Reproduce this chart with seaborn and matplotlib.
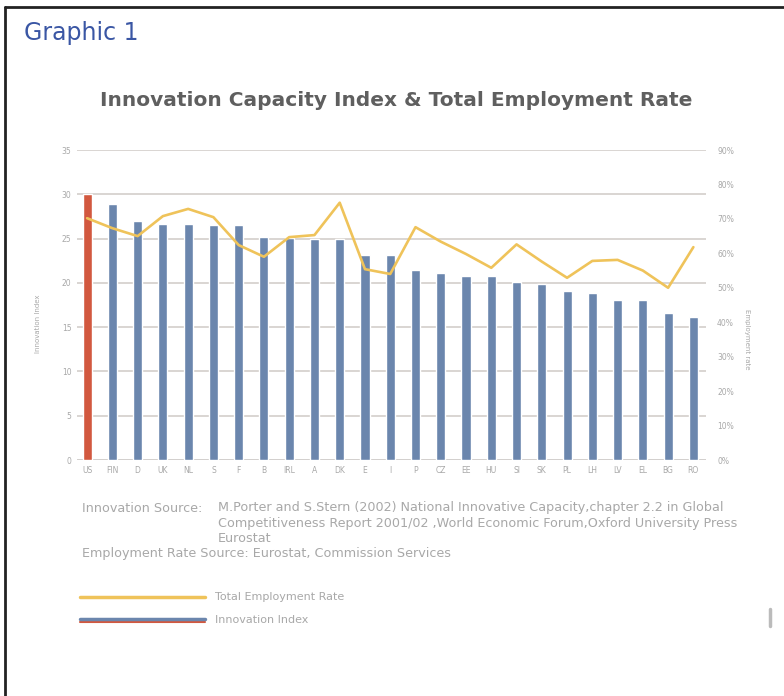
import numpy as np
import pandas as pd
import matplotlib
matplotlib.use("Agg")
import matplotlib.pyplot as plt
from matplotlib.lines import Line2D
import seaborn as sns

# values
countries = ["US", "FIN", "D", "UK", "NL", "S", "F", "B", "IRL", "A", "DK", "E", "I",
             "P", "CZ", "EE", "HU", "SI", "SK", "PL", "LH", "LV", "EL", "BG", "RO"]
innovation = [30.0, 28.9, 27.0, 26.7, 26.7, 26.5, 26.5, 25.2, 25.1, 25.0, 24.9, 23.1, 23.1,
              21.4, 21.1, 20.8, 20.8, 20.1, 19.9, 19.1, 18.9, 18.1, 18.1, 16.6, 16.2]
employment = [70.2, 67.3, 65.0, 70.8, 72.9, 70.5, 62.4, 59.0, 64.7, 65.3, 74.7, 55.4, 54.0,
              67.6, 63.4, 59.8, 55.8, 62.6, 57.6, 52.9, 57.8, 58.1, 55.0, 50.0, 61.8]
left_ticks = [0, 5, 10, 15, 20, 25, 30, 35]
right_ticks = [0, 10, 20, 30, 40, 50, 60, 70, 80, 90]

BLUE = "#6b86ad"
RED = "#d2583f"
YELLOW = "#efc35a"
GRID = "#cfcac6"
TXT = "#a8a8a8"

df = pd.DataFrame({"country": countries, "innovation": innovation,
                   "employment": np.array(employment) / 100})
df["pos"] = np.arange(len(df))

sns.set_style("white")
plt.rcParams["font.family"] = ["DejaVu Sans"]

fig = plt.figure(figsize=(7.84, 6.96), dpi=100)
ax = fig.add_axes([77 / 784, 1 - 460 / 696, (706 - 77) / 784, 310 / 696])

palette = {c: (RED if c == "US" else BLUE) for c in countries}
sns.barplot(data=df, x="country", y="innovation", hue="country", palette=palette,
            width=0.36, saturation=1, legend=False, ax=ax, zorder=3)
ax.set_xlim(-0.4, len(countries) - 0.5)
ax.set_ylim(0, 35)
ax.set_yticks(left_ticks)
ax.grid(axis="y", color=GRID, lw=1.1, zorder=0)
ax.set_axisbelow(True)
for s in ax.spines.values():
    s.set_visible(False)
ax.axhline(0, color="#bbbbbb", lw=1, zorder=2)
ax.tick_params(axis="both", labelsize=5.5, colors=TXT, length=0, pad=4)
ax.set_xlabel("")
ax.set_ylabel("Innovation Index", fontsize=5, color=TXT)
ax.yaxis.set_label_coords(-0.058, 0.44)

ax2 = ax.twinx()
sns.lineplot(data=df, x="pos", y="employment", color=YELLOW, lw=1.9, ax=ax2)
ax2.set_ylim(0, 0.9)
ax2.set_yticks(np.array(right_ticks) / 100)
ax2.set_yticklabels([f"{t}%" for t in right_ticks])
ax2.tick_params(axis="y", labelsize=5.5, colors=TXT, length=0, pad=8)
for s in ax2.spines.values():
    s.set_visible(False)
ax2.set_ylabel("Employment rate", fontsize=5, color=TXT, rotation=270)
ax2.yaxis.set_label_coords(1.07, 0.39)

# titles and notes
fig.text(24 / 784, 1 - 33 / 696, "Graphic 1", fontsize=17, color="#3a56a4",
         ha="left", va="center")
fig.text(396 / 784, 1 - 100 / 696, "Innovation Capacity Index & Total Employment Rate",
         fontsize=14.5, fontweight="bold", color="#5f5f5f", ha="center", va="center")

note_kw = dict(fontsize=9.2, color=TXT, ha="left", va="center")
fig.text(82 / 784, 1 - 508 / 696, "Innovation Source:", **note_kw)
fig.text(218 / 784, 1 - 508 / 696,
         "M.Porter and S.Stern (2002) National Innovative Capacity,chapter 2.2 in Global",
         **note_kw)
fig.text(218 / 784, 1 - 523 / 696,
         "Competitiveness Report 2001/02 ,World Economic Forum,Oxford University Press",
         **note_kw)
fig.text(218 / 784, 1 - 538 / 696, "Eurostat", **note_kw)
fig.text(82 / 784, 1 - 553 / 696, "Employment Rate Source: Eurostat, Commission Services",
         **note_kw)

# legend drawn by hand, like the original
fig.add_artist(Line2D([80 / 784, 205 / 784], [1 - 597 / 696] * 2, color=YELLOW, lw=2.5))
fig.add_artist(Line2D([80 / 784, 205 / 784], [1 - 622 / 696] * 2, color=RED, lw=1.5))
fig.add_artist(Line2D([80 / 784, 205 / 784], [1 - 619 / 696] * 2, color=BLUE, lw=2.5))
fig.text(215 / 784, 1 - 597 / 696, "Total Employment Rate", fontsize=8, color=TXT,
         va="center")
fig.text(215 / 784, 1 - 620 / 696, "Innovation Index", fontsize=8, color=TXT,
         va="center")
fig.add_artist(Line2D([770 / 784] * 2, [1 - 609 / 696, 1 - 626 / 696], color="#bbbbbb", lw=2.5))

# frame of the page
fig.add_artist(Line2D([5 / 784, 1.0], [1 - 7 / 696] * 2, color="#222222", lw=2))
fig.add_artist(Line2D([5 / 784] * 2, [0.0, 1 - 7 / 696], color="#222222", lw=2))

fig.savefig("out.png", dpi=100, facecolor="white")
